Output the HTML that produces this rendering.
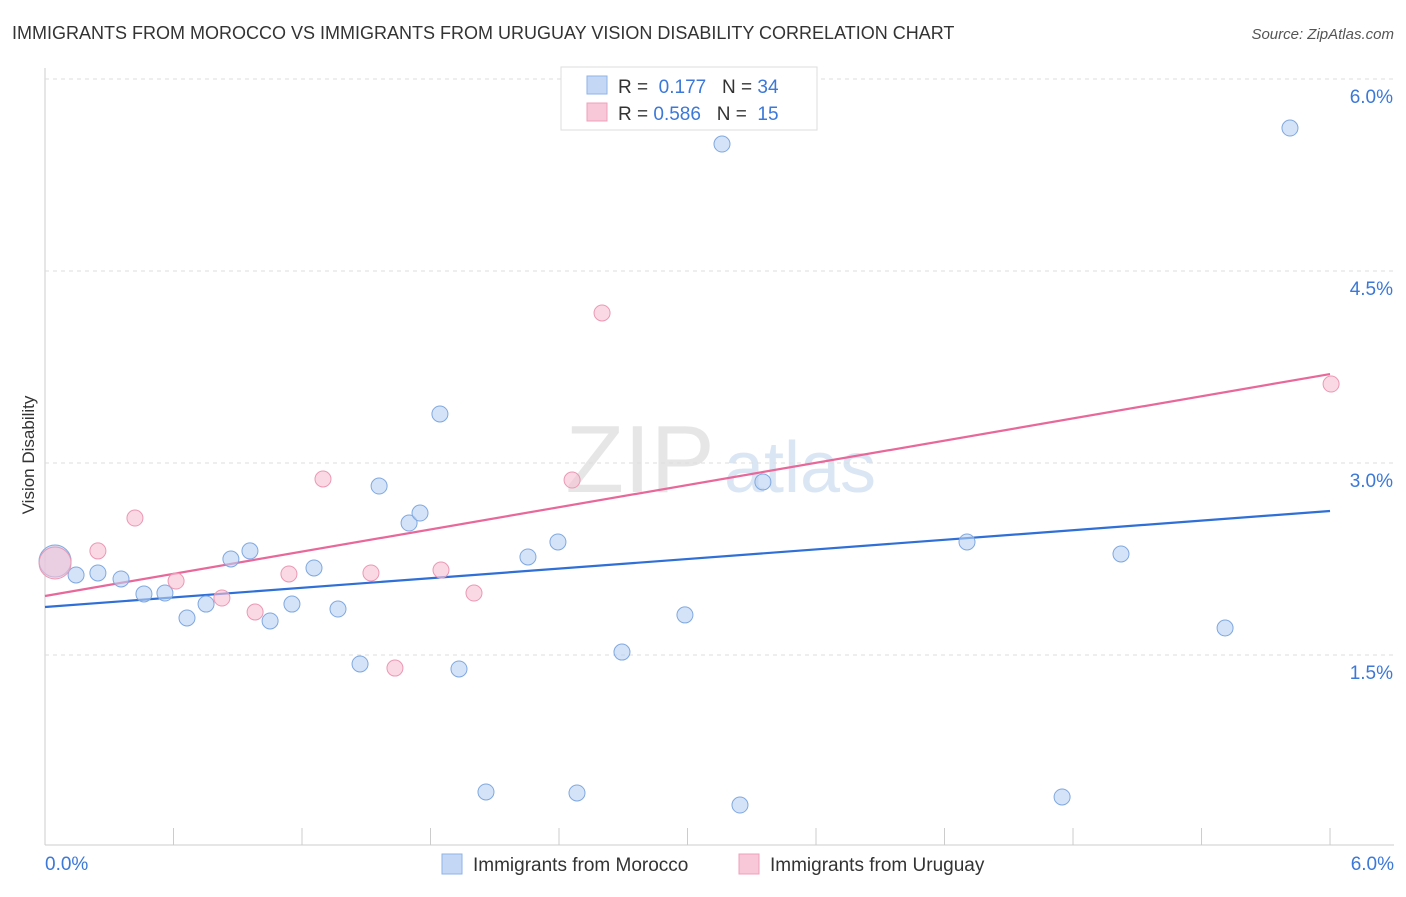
<!DOCTYPE html>
<html><head><meta charset="utf-8"><style>
body{margin:0;background:#fff;font-family:"Liberation Sans",sans-serif;}
svg text{font-family:"Liberation Sans",sans-serif;}
</style></head><body>
<svg width="1406" height="892" id="chart">
<text x="12" y="39" font-size="18" fill="#333">IMMIGRANTS FROM MOROCCO VS IMMIGRANTS FROM URUGUAY VISION DISABILITY CORRELATION CHART</text>
<text x="1394" y="39" font-size="15" fill="#555" text-anchor="end" font-style="italic">Source: ZipAtlas.com</text>
<text x="34" y="455" font-size="17" fill="#333" transform="rotate(-90 34 455)" text-anchor="middle">Vision Disability</text>
<text x="640" y="492" font-size="96" fill="#e6e6e6" font-family="Liberation Serif" text-anchor="middle">ZIP</text>
<text x="800" y="492" font-size="72" fill="#dbe6f5" text-anchor="middle">atlas</text>
<g id="grid"></g><g id="trend"></g><g id="pts"></g>
<g>
<rect x="561" y="67" width="256" height="63" fill="#fff" stroke="#ddd"/>
<rect x="587" y="76" width="20" height="18" fill="#c4d8f5" stroke="#8fb3e6"/>
<rect x="587" y="103" width="20" height="18" fill="#f8c8d8" stroke="#eea0ba"/>
<text x="618" y="93" font-size="19" fill="#333">R = <tspan fill="#3b78d8">&#160;0.177</tspan>&#160;&#160;&#160;N = <tspan fill="#3b78d8">34</tspan></text>
<text x="618" y="120" font-size="19" fill="#333">R = <tspan fill="#3b78d8">0.586</tspan>&#160;&#160;&#160;N = <tspan fill="#3b78d8">&#160;15</tspan></text>
</g>
<g>
<rect x="442" y="854" width="20" height="20" fill="#c4d8f5" stroke="#8fb3e6"/>
<text x="473" y="871" font-size="19" fill="#333">Immigrants from Morocco</text>
<rect x="739" y="854" width="20" height="20" fill="#f8c8d8" stroke="#eea0ba"/>
<text x="770" y="871" font-size="19" fill="#333">Immigrants from Uruguay</text>
</g>
</svg>
<script>
const yTicks=[1.5,3.0,4.5,6.0];
const xTickLabels=["0.0%","6.0%"];
const moroccoX=[0.047,0.145,0.247,0.355,0.462,0.56,0.663,0.752,0.868,0.957,1.051,1.153,1.256,1.368,1.471,1.56,1.70,1.751,1.844,1.933,2.059,2.255,2.395,2.484,2.694,2.988,3.161,3.245,3.352,4.305,4.749,5.024,5.51,5.813];
const moroccoY=[2.234,2.125,2.141,2.094,1.977,1.984,1.789,1.898,2.25,2.313,1.766,1.898,2.18,1.859,1.43,2.82,2.531,2.609,3.383,1.391,0.43,2.266,2.383,0.422,1.523,1.813,5.492,0.328,2.852,2.383,0.391,2.289,1.711,5.617];
const uruguayX=[0.047,0.247,0.42,0.612,0.826,0.981,1.139,1.298,1.522,1.634,1.849,2.003,2.461,2.601,6.005];
const uruguayY=[2.219,2.313,2.570,2.078,1.945,1.836,2.133,2.875,2.141,1.398,2.164,1.984,2.867,4.172,3.617];
const moroccoTrend=[1.875,2.625];
const uruguayTrend=[1.961,3.695];
const NS="http://www.w3.org/2000/svg";
const sx=v=>45+v*214.17, sy=v=>847-v*128;
function mk(t,a,p){const e=document.createElementNS(NS,t);for(const k in a)e.setAttribute(k,a[k]);p.appendChild(e);return e;}
const grid=document.getElementById('grid');
const ax=mk('line',{x1:45,y1:68,x2:45,y2:845,stroke:'#ccc'},grid);


const bx=mk('line',{x1:45,y1:845,x2:1394,y2:845,stroke:'#ccc'},grid);


yTicks.forEach(t=>{
 const l=mk('line',{x1:45,x2:1394,y1:sy(t),y2:sy(t),stroke:'#ddd','stroke-dasharray':'4 4'},grid);
 
 
 const tx=mk('text',{x:1393,y:sy(t)+24,'font-size':19,fill:'#3b78d8','text-anchor':'end'},grid);
 tx.textContent=t.toFixed(1)+'%';
 
 
});
for(let i=0;i<=10;i++){const x=sx(i*0.6);
 const l=mk('line',{x1:x,x2:x,y1:828,y2:845,stroke:'#ccc'},grid);
 
 }
xTickLabels.forEach((s,i)=>{
 const tx=mk('text',{x:i?1394:45,y:870,'font-size':19,fill:'#3b78d8','text-anchor':i?'end':'start'},grid);
 tx.textContent=s;
 
 
});
const pts=document.getElementById('pts');
function series(X,Y,fill,stroke,name){X.forEach((x,i)=>{
 const c=mk('circle',{cx:sx(x),cy:sy(Y[i]),r:i==0?16:8,fill:fill,'fill-opacity':0.6,stroke:stroke,'stroke-width':1},pts);
 
 });}
series(moroccoX,moroccoY,'#b8d0f2','#7fa8e0','morocco-point');
series(uruguayX,uruguayY,'#f8c0d2','#eb98b4','uruguay-point');
const tr=document.getElementById('trend');
const t1=mk('line',{x1:sx(0),y1:sy(moroccoTrend[0]),x2:sx(6),y2:sy(moroccoTrend[1]),stroke:'#2f6fd6','stroke-width':2.2},tr);


const t2=mk('line',{x1:sx(0),y1:sy(uruguayTrend[0]),x2:sx(6),y2:sy(uruguayTrend[1]),stroke:'#e8689a','stroke-width':2.2},tr);


</script>
</body></html>
